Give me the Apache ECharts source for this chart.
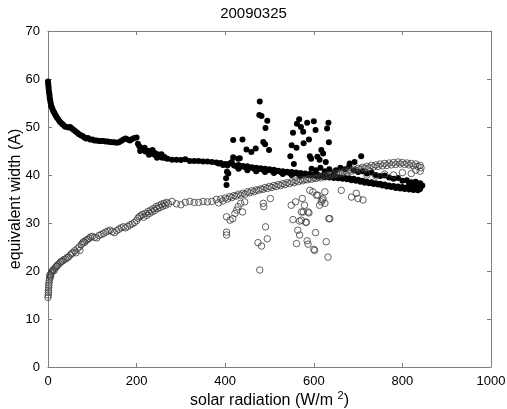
<!DOCTYPE html>
<html>
<head>
<meta charset="utf-8">
<script src="https://cdn.jsdelivr.net/npm/echarts@6/dist/echarts.min.js"></script>
<style>html,body{margin:0;padding:0;background:#fff}#c{width:507px;height:409px}</style>
</head>
<body>
<div id="c"></div>
<script>
var chartTitle = '20090325';
var xTicks = [0, 200, 400, 600, 800, 1000];
var yTicks = [0, 10, 20, 30, 40, 50, 60, 70];

var filledMain = [
[0,59.5],[0.5,59],[1,58.5],[1.5,58],[2,57.5],[3,57],[3.5,56.5],[4,56],[5,55.5],[6,55],[7,54.5],[8,54.2],[10,53.8],[12,53.3],[14,53],[16,52.6],[18,52.3],[20,52],[23,51.6],[26,51.2],[29,50.9],[32,50.6],[35,50.4],[38,50.1],[42,50],[46,49.9],[50,50],[54,49.7],[58,49.4],[62,49.1],[66,48.8],[70,48.5],[74,48.3],[78,48.1],[82,47.8],[86,47.6],[90,47.7],[95,47.4],[100,47.4],[105,47.2],[110,47.2],[115,47.1],[120,47.1],[125,47.1],[130,47],[135,47],[140,46.9],[145,46.8],[150,46.8],[155,46.7],[160,46.8],[165,47.1],[170,47.4],[175,47.6],[180,47.4],[185,47.2],[190,47.5],[195,47.7],[200,47.8],[203,46.5],[206,46],[210,45.6],[213,45.2],[216,45.3],[220,44.9],[223,45.1],[226,44.7],[229,45],[232,44.5],[235,44.7],[238,44.3],[241,44.6],[244,44.0],[247,44.3],[250,43.8],[254,44],[258,43.6],[262,43.8],[266,43.5],[270,43.4],[280,43.2],[290,43.2],[300,43.1],[310,43.3],[320,42.9],[330,42.9],[340,42.9],[350,42.8],[360,42.8],[370,42.7],[380,42.6],[385,42.4],[390,42.5],[395,42.1],[400,42.3],[405,42.0],[410,42.4],[415,42.7],[420,42.0],[425,41.8],[430,42.1],[435,41.7],[440,41.9],[445,41.6],[450,41.8],[455,41.5],[460,41.6],[465,41.3],[470,41.5],[475,41.2],[480,41.4],[485,41.1],[490,41.3],[495,41.0],[500,41.2],[505,40.9],[510,41.1],[515,40.8],[520,40.9],[525,40.6],[530,40.8],[535,40.5],[540,40.7],[545,40.4],[550,40.6],[555,40.3],[560,40.5],[565,40.2],[570,40.4],[575,40.1],[580,40.3],[585,40.0],[590,40.2],[595,39.9],[600,40.1],[605,39.8],[610,40.0],[615,39.7],[620,39.9],[625,39.6],[630,39.8],[635,39.5],[640,39.7],[645,39.4],[650,39.6],[655,39.3],[660,39.5],[665,39.2],[670,39.4],[675,39.1],[680,39.3],[685,38.9],[690,39.2],[695,38.8],[700,39.0],[705,38.6],[710,38.8],[715,38.4],[720,38.6],[725,38.3],[730,38.5],[735,38.1],[740,38.3],[745,38.0],[750,38.2],[755,37.8],[760,38.0],[765,37.6],[770,37.8],[775,37.5],[780,37.7],[785,37.3],[790,37.6],[795,37.2],[800,37.5],[805,37.1],[810,37.4],[815,37.0],[820,37.3],[825,36.9],[830,37.2],[835,36.8],[840,37.1],[842,37.6],[838,37.9]
];
var filledBranch = [
[208,45.0],[218,45.7],[228,44.2],[236,45.2],[246,43.6],[256,44.3],[430,41.3],[450,41.0],[470,40.8],[490,40.6],[510,40.4],[530,40.2],[550,40.0],[570,39.8],
[595,41.3],[605,41.0],[615,41.5],[625,40.8],[635,41.2],[645,40.5],[650,41.0],[660,41.5],[670,41.2],[680,41.8],[690,41.0],[700,40.6],[710,40.8],[720,40.3],[730,40.5],[740,40.0],[750,39.8],[760,39.9],[770,39.5],[780,39.2],[790,39.4],[800,38.8],[810,38.9],[820,38.5],[830,38.6],[840,38.3],[845,37.8],[835,38.0],[825,38.1],[815,38.3]
];
var filledOutliers = [
[478,55.3],[477,52.5],[482,52.3],[495,51.3],[491,49.8],[439,47.4],[418,47.3],[486,46.9],[490,46.4],[499,45.2],[448,45.3],[459,44.8],[469,45.5],[433,43.5],[429,43.4],[418,43.7],[404,40.7],[402,39.3],[403,37.9],[407,40.3],
[567,51.6],[562,50.7],[585,50.9],[600,51.2],[604,49.4],[633,50.9],[630,49.7],[571,50.0],[576,49.0],[553,48.8],[589,47.4],[577,46.6],[550,46.2],[561,45.7],[634,46.8],[547,43.9],[591,43.9],[594,43.4],[608,43.8],[617,45.2],[621,44.5],[613,43.2],[627,42.7],[555,42.3],[707,43.9],[681,42.4],[692,42.7]
];
var openMain = [
[0,14.5],[0.5,15],[1,15.5],[1,16],[1.5,16.5],[2,17],[2,17.5],[3,18],[3.5,18.5],[4,19],[5,19.2],[6,18.8],[7,19.5],[8,19.8],[10,20],[12,20.3],[14,20.1],[16,20.6],[18,20.9],[20,21],[22,21.3],[25,21.5],[28,21.8],[30,22.0],[33,22.1],[36,22.4],[40,22.5],[43,22.8],[46,22.9],[50,23.3],[53,23.6],[56,23.8],[60,24.2],[63,23.8],[66,24.6],[70,25.0],[72,24.3],[75,25.5],[78,25.8],[80,26.1],[83,26.0],[86,26.4],[90,26.6],[93,26.8],[96,27.1],[100,27.2],[105,27.0],[110,26.9],[115,27.4],[120,27.6],[125,27.8],[130,28.1],[135,28.3],[140,28.5],[145,28.2],[150,28.0],[155,28.4],[160,28.7],[165,29.0],[170,29.2],[175,29.0],[180,29.3],[185,29.6],[190,29.8],[195,30.1],[200,30.5],[203,31.0],[206,31.3],[210,31.5],[213,31.8],[216,31.2],[220,32.0],[223,31.6],[226,32.4],[229,32.0],[232,32.7],[235,32.3],[238,33.0],[241,32.6],[244,33.4],[247,33.0],[250,33.6],[253,33.2],[256,33.9],[259,33.5],[262,34.1],[265,33.7],[268,34.3],[272,34.0],[280,34.5],[290,34.0],[300,33.8],[310,34.3],[320,34.5],[330,34.3],[340,34.3],[350,34.5],[360,34.4],[370,34.5],[380,34.9],[385,34.2],[390,35.0],[395,34.6],[400,35.2],[405,35.0],[410,35.5],[415,35.3],[420,35.7],
[425,35.6],[430,36.0],[435,35.8],[440,36.2],[445,36.0],[450,36.5],[455,36.3],[460,36.7],[465,36.5],[470,36.9],[475,36.8],[480,37.1],[485,37.0],[490,37.4],[495,37.2],[500,37.6],[505,37.4],[510,37.8],[515,37.6],[520,38.0],[525,37.8],[530,38.2],[535,38.0],[540,38.4],[545,38.2],[550,38.6],[555,38.4],[560,38.8],[565,38.6],[570,39.0],[575,38.8],[580,39.1],[585,39.0],[590,39.3],[595,39.1],[600,39.4],[605,39.3],[610,39.6],[615,39.4],[620,39.8],[625,39.6],[630,40.0],[635,39.8],[640,40.2],[645,40.0],[650,40.4],[655,40.2],[660,40.6],[665,40.4],[670,40.8],[675,40.6],[680,41.0],[685,40.8],[690,41.2],[695,41.0],[700,41.4],[705,41.2],[710,41.6],[715,41.4],[720,41.8],[725,41.5],[730,42.0],[735,41.7],[740,42.1],[745,41.8],[750,42.3],[755,41.9],[760,42.4],[765,42.0],[770,42.5],[775,42.1],[780,42.6],[785,42.2],[790,42.7],[795,42.3],[800,42.6],[805,42.2],[810,42.5],[815,42.1],[820,42.4],[825,41.9],[830,42.3],[835,41.8],[840,42.0],[842,41.5],
[720,40.0],[740,39.8],[760,40.2],[780,40.0],[800,40.5],[820,40.3],[840,40.8],[830,41.0]
];
var openOutliers = [
[403,28.1],[403,27.5],[403,31.3],[411,30.6],[417,30.9],[422,32.0],[426,32.7],[429,33.4],[435,34.1],[444,34.4],[439,32.3],
[486,34.1],[487,33.4],[502,35.1],[491,29.2],[495,26.7],[474,25.9],[482,25.2],[478,20.2],
[549,33.7],[559,34.4],[574,35.1],[579,33.7],[576,32.3],[589,32.1],[553,30.7],[568,30.4],[582,30.1],[564,28.5],[568,27.5],[604,28.0],[561,25.7],[585,26.3],[587,25.6],[600,24.5],[602,24.3],[628,26.1],[632,22.9],[634,30.9],[613,33.7],[619,34.8],[625,36.5],[591,36.8],[606,35.8],
[572,32.3],[587,32.3],[572,30.6],[583,30.2],[636,30.9],[598,36.5],[609,35.8],[617,34.4],[621,35.1],[625,34.1],[662,36.8],[685,35.4],[700,35.1],[711,34.8],[696,36.2]
];

var chart = echarts.init(document.getElementById('c'));
var axisGrey = '#7f7f7f';
var font = 'Liberation Sans, Arial, sans-serif';
function axisBase(show) {
  return {
    axisLine: { show: true, onZero: false, lineStyle: { color: axisGrey, width: 1 } },
    axisTick: { show: true, inside: true, length: 4, lineStyle: { color: axisGrey } },
    axisLabel: { show: show, color: '#000', fontSize: 13, fontFamily: font, formatter: function (v) { return String(v); } },
    splitLine: { show: false }
  };
}
var xb = axisBase(true), xt = axisBase(false), yl = axisBase(true), yr = axisBase(false);
var dotStyle = { color: '#000', opacity: 1 };
var ringStyle = { color: 'rgba(0,0,0,0)', borderColor: '#3a3a3a', borderWidth: 0.8, opacity: 1 };
var option = {
  animation: false,
  backgroundColor: '#fff',
  title: { text: chartTitle, left: 'center', top: 1, textStyle: { fontSize: 15, fontWeight: 'normal', color: '#000', fontFamily: font } },
  grid: { left: 48, right: 16, top: 31, bottom: 42, containLabel: false, outerBoundsMode: 'none' },
  xAxis: [
    Object.assign(xb, { type: 'value', position: 'bottom', min: 0, max: 1000, interval: 200,
      name: '{a|solar radiation (W/m }{s|2}{a|)}', nameLocation: 'middle', nameGap: 23, nameMoveOverlap: false,
      nameTextStyle: { rich: { a: { fontSize: 16, color: '#000', fontFamily: font }, s: { fontSize: 11, color: '#000', fontFamily: font, padding: [0, 0, 10, 0] } } } }),
    Object.assign(xt, { type: 'value', position: 'top', min: 0, max: 1000, interval: 200 })
  ],
  yAxis: [
    Object.assign(yl, { type: 'value', position: 'left', min: 0, max: 70, interval: 10,
      name: 'equivalent width (A)', nameLocation: 'middle', nameGap: 24, nameMoveOverlap: false,
      nameTextStyle: { fontSize: 16, color: '#000', fontFamily: font } }),
    Object.assign(yr, { type: 'value', position: 'right', min: 0, max: 70, interval: 10 })
  ],
  series: [
    { type: 'scatter', data: filledMain, symbol: 'circle', symbolSize: 6, itemStyle: dotStyle },
    { type: 'scatter', data: filledBranch, symbol: 'circle', symbolSize: 6, itemStyle: dotStyle },
    { type: 'scatter', data: filledOutliers, symbol: 'circle', symbolSize: 6, itemStyle: dotStyle },
    { type: 'scatter', data: openMain, symbol: 'circle', symbolSize: 6.5, itemStyle: ringStyle },
    { type: 'scatter', data: openOutliers, symbol: 'circle', symbolSize: 6.5, itemStyle: ringStyle }
  ]
};
chart.setOption(option);
</script>
</body>
</html>
